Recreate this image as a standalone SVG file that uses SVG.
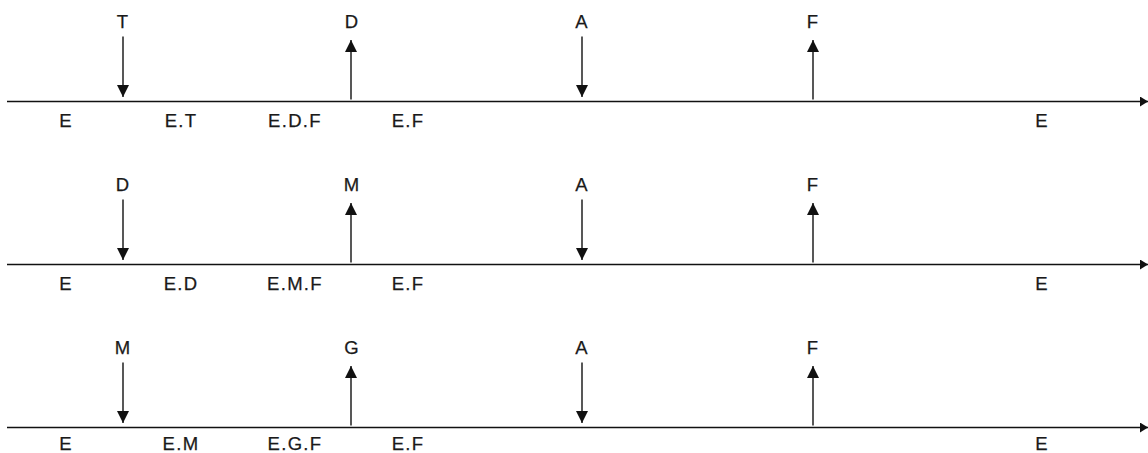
<svg xmlns="http://www.w3.org/2000/svg" width="1148" height="453" viewBox="0 0 1148 453">
<style>
text{font-family:"Liberation Sans",Arial,sans-serif;font-size:18.5px;fill:#1a1a1a;text-anchor:middle;letter-spacing:1.3px;stroke:#1a1a1a;stroke-width:0.25}
.ln{stroke:#111;stroke-width:1.6;fill:none}
.ar{stroke:#111;stroke-width:1.4;fill:none}
</style>
<defs>
<marker id="h" markerUnits="userSpaceOnUse" markerWidth="12" markerHeight="14" refX="12" refY="6" orient="auto" viewBox="0 0 12 12">
<path d="M0,0 L12,6 L0,12 Z" fill="#111"/>
</marker>
<marker id="hs" markerUnits="userSpaceOnUse" markerWidth="8" markerHeight="10" refX="8" refY="5" orient="auto" viewBox="0 0 8 10">
<path d="M0,0 L8,5 L0,10 Z" fill="#111"/>
</marker>
</defs>
<g id="connectors">
<line class="ln" x1="7" y1="101.5" x2="1148" y2="101.5" marker-end="url(#hs)"/>
<line class="ar" x1="123" y1="36.5" x2="123" y2="97" marker-end="url(#h)"/>
<line class="ar" x1="351" y1="99.5" x2="351" y2="40" marker-end="url(#h)"/>
<line class="ar" x1="582" y1="36.5" x2="582" y2="97" marker-end="url(#h)"/>
<line class="ar" x1="813" y1="99.5" x2="813" y2="40" marker-end="url(#h)"/>
<line class="ln" x1="7" y1="264.5" x2="1148" y2="264.5" marker-end="url(#hs)"/>
<line class="ar" x1="123" y1="199.5" x2="123" y2="260" marker-end="url(#h)"/>
<line class="ar" x1="351" y1="262.5" x2="351" y2="203" marker-end="url(#h)"/>
<line class="ar" x1="582" y1="199.5" x2="582" y2="260" marker-end="url(#h)"/>
<line class="ar" x1="813" y1="262.5" x2="813" y2="203" marker-end="url(#h)"/>
<line class="ln" x1="7" y1="427.5" x2="1148" y2="427.5" marker-end="url(#hs)"/>
<line class="ar" x1="123" y1="362.5" x2="123" y2="423" marker-end="url(#h)"/>
<line class="ar" x1="351" y1="425.5" x2="351" y2="366" marker-end="url(#h)"/>
<line class="ar" x1="582" y1="362.5" x2="582" y2="423" marker-end="url(#h)"/>
<line class="ar" x1="813" y1="425.5" x2="813" y2="366" marker-end="url(#h)"/>
</g>
<g id="row1">
<text x="123" y="28">T</text>
<text x="352" y="28">D</text>
<text x="582" y="28">A</text>
<text x="813" y="28">F</text>
<text x="66" y="127">E</text>
<text x="181" y="127">E.T</text>
<text x="295" y="127">E.D.F</text>
<text x="408" y="127">E.F</text>
<text x="1042" y="127">E</text>
</g>
<g id="row2">
<text x="123" y="191">D</text>
<text x="352" y="191">M</text>
<text x="582" y="191">A</text>
<text x="813" y="191">F</text>
<text x="66" y="290">E</text>
<text x="181" y="290">E.D</text>
<text x="295" y="290">E.M.F</text>
<text x="408" y="290">E.F</text>
<text x="1042" y="290">E</text>
</g>
<g id="row3">
<text x="123" y="354">M</text>
<text x="352" y="354">G</text>
<text x="582" y="354">A</text>
<text x="813" y="354">F</text>
<text x="66" y="450">E</text>
<text x="181" y="450">E.M</text>
<text x="295" y="450">E.G.F</text>
<text x="408" y="450">E.F</text>
<text x="1042" y="450">E</text>
</g>
</svg>
